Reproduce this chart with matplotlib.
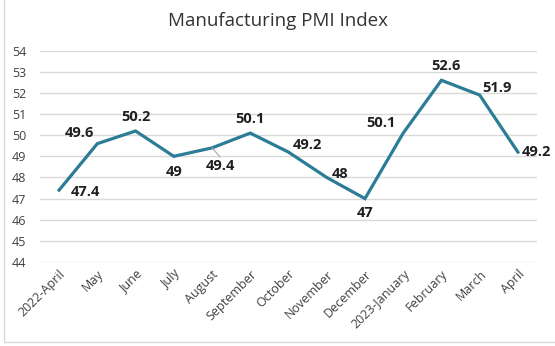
import matplotlib.pyplot as plt
from matplotlib.patches import Rectangle

months = ["2022-April", "May", "June", "July", "August", "September", "October",
          "November", "December", "2023-January", "February", "March", "April"]
pmi = [47.4, 49.6, 50.2, 49, 49.4, 50.1, 49.2, 48, 47, 50.1, 52.6, 51.9, 49.2]
labels = ["47.4", "49.6", "50.2", "49", "49.4", "50.1", "49.2", "48", "47",
          "50.1", "52.6", "51.9", "49.2"]
# label offsets in pixels (dx, dy) relative to each point
offsets = [(26, -2), (-18, 11), (0, 14), (0, -16), (8, -18), (0, 14), (19, 7),
           (13, 3), (0, -14), (-22, 10), (5, 14), (17, 7), (19, 0)]

plt.rcParams['font.family'] = ['Open Sans', 'DejaVu Sans']

fig = plt.figure(figsize=(5.55, 3.46), dpi=100)
ax = fig.add_axes([0.072, 0.2428, 0.8956, 0.6107])

x = list(range(len(months)))
ax.plot(x, pmi, color="#2b7c96", lw=2.3, solid_joinstyle="miter", zorder=3)

for i, (v, lab, (dx, dy)) in enumerate(zip(pmi, labels, offsets)):
    ax.annotate(lab, (i, v), xytext=(dx, dy), textcoords="offset pixels",
                ha="center", va="center", fontsize=10.5, fontweight="bold",
                color="#1f1f1f")

# little leader line for the August label
ax.annotate("", (4, 49.4), xytext=(8, -9), textcoords="offset pixels",
            arrowprops=dict(arrowstyle="-", color="#a6a6a6", lw=0.8,
                            shrinkA=0, shrinkB=0))

ax.set_xlim(-0.5, len(months) - 0.5)
ax.set_ylim(44, 54)
ax.set_yticks(range(44, 55))
ax.set_xticks(x)
ax.set_xticklabels(months, rotation=45, ha="right", rotation_mode="anchor")
ax.tick_params(axis="both", length=0, labelsize=9, colors="#404040")
ax.tick_params(axis="x", pad=4)
ax.tick_params(axis="y", pad=20)
for lbl in ax.get_yticklabels():
    lbl.set_horizontalalignment("left")
ax.grid(axis="y", color="#d9d9d9", lw=1)
ax.set_axisbelow(True)
for s in ax.spines.values():
    s.set_visible(False)

fig.suptitle("Manufacturing PMI Index", x=0.5, y=0.965, fontsize=13.5,
             color="#333333")

fig.patches.append(Rectangle((0.007, 0.012), 1.2, 1.2, transform=fig.transFigure,
                             fill=False, ec="#d9d9d9", lw=1))

fig.savefig("out.png", dpi=100)
